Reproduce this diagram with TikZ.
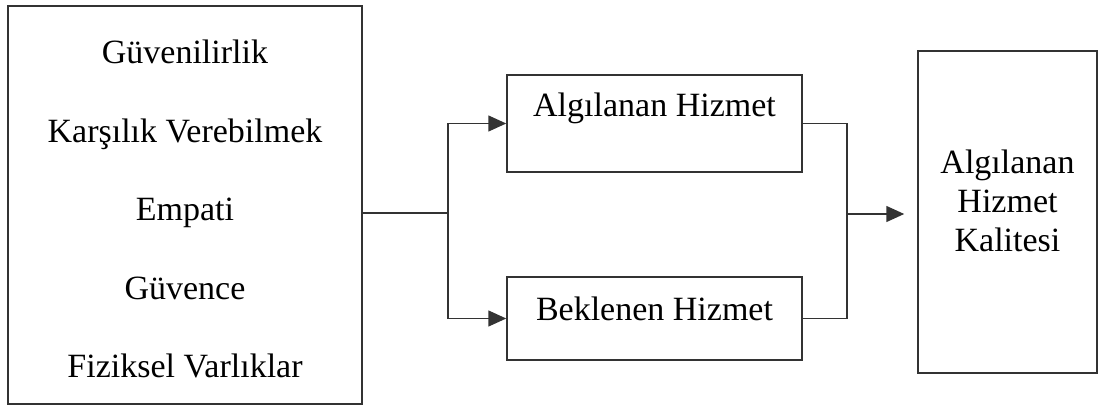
\documentclass[tikz,border=0pt]{standalone}
\usepackage{fontspec}
\setmainfont{Liberation Serif}
\usepackage{tikz}
\usetikzlibrary{arrows.meta,positioning,calc}
\tikzstyle{box} = [rectangle, draw=black!80, line width=1.5pt, inner sep=0pt, text=black, font=\fontsize{34}{40}\selectfont]
\tikzstyle{factors} = [box, minimum width=354pt, minimum height=398pt, align=center, font=\fontsize{34}{78.5}\selectfont]
\tikzstyle{service} = [box, minimum width=295pt]
\tikzstyle{arrow} = [draw=black!80, line width=1.5pt, -{Triangle[length=18pt,width=16pt]}]
\tikzstyle{line} = [draw=black!80, line width=1.5pt]

\begin{document}
\begin{tikzpicture}[x=1pt,y=-1pt]
\useasboundingbox (0,0) rectangle (1106,406);

\node (dims) [factors, text height=346pt] at (185,205) {G\"uvenilirlik\\Kar\c{s}\i l\i k Verebilmek\\Empati\\G\"uvence\\Fiziksel Varl\i klar};

\node (perceived) [service, minimum height=97pt, text height=22pt, text depth=35pt] at (654.5,123.5) {Alg\i lanan Hizmet};
\node (expected) [service, minimum height=83pt, text height=22pt, text depth=19pt] at (654.5,318.5) {Beklenen Hizmet};

\node (quality) [box, minimum width=179pt, minimum height=322pt,
  label={[align=center, font=\fontsize{34}{39}\selectfont, yshift=11pt]center:Alg\i lanan\\Hizmet\\Kalitesi}] at (1007.5,212) {};

\coordinate (split) at (448,213);
\coordinate (merge) at (847,214);

%arrows
\draw [line] (dims.east |- split) -- (split);
\draw [arrow] (split) |- (perceived.west);
\draw [arrow] (split) |- (expected.west);

\draw [line] (perceived.east) -| (merge);
\draw [line] (expected.east) -| (merge);
\draw [arrow, shorten >=13pt] (merge) -- (quality.west |- merge);

\end{tikzpicture}
\end{document}
